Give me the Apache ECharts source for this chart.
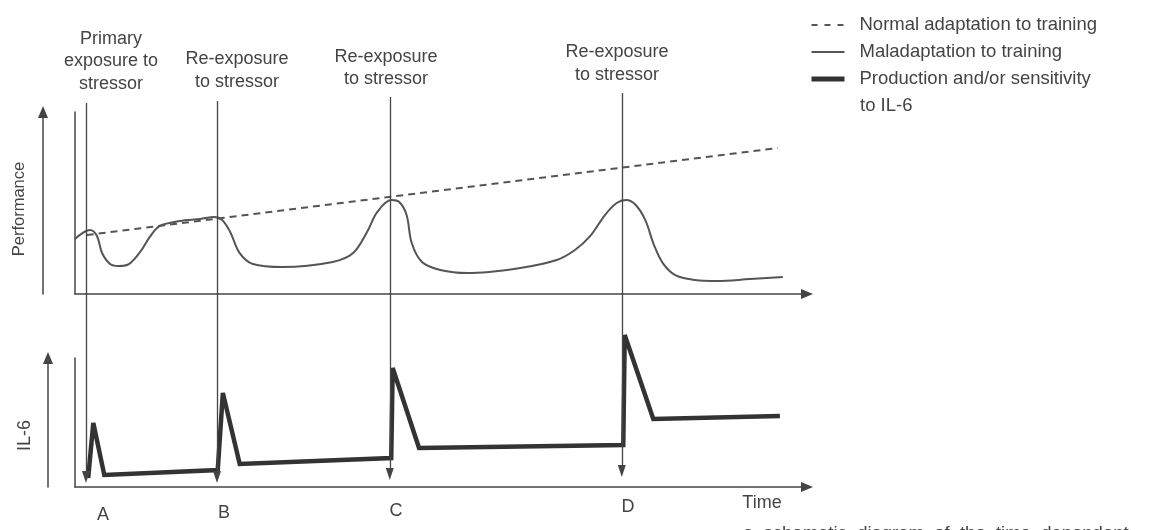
<!DOCTYPE html>
<html>
<head>
<meta charset="utf-8">
<script src="https://cdn.jsdelivr.net/npm/echarts@6/dist/echarts.min.js"></script>
<style>
html,body{margin:0;padding:0;background:#fff;}
#chart{width:1156px;height:530px;}
</style>
</head>
<body>
<div id="chart"></div>
<script>
// ---- data (arbitrary schematic units: time 0-100, response 0-100) ----
const seriesNames = ['Normal adaptation to training', 'Maladaptation to training', 'Production and/or sensitivity to IL-6'];
const legendLabels = ['Normal adaptation to training', 'Maladaptation to training', 'Production and/or sensitivity'];
const legendExtraLine = 'to IL-6';

const timeNormal = [1.6, 96.0];
const perfNormal = [32.4, 80.2];

const timeMal = [0, 1.0, 2.05, 3.0, 3.7, 4.8, 5.9, 7.1, 8.9, 10.2, 11.6, 14.3, 17.1, 19.0, 20.1, 21.2, 22.5, 24.3, 28.4, 35.2, 38.0, 39.9, 41.3, 43.2, 44.3, 45.3, 46.0, 47.4, 49.9, 53.6, 60.8, 65.8, 68.3, 70.4, 72.4, 74.0, 75.3, 76.6, 77.9, 79.1, 80.3, 82.0, 84.7, 87.7, 92.2, 96.7];
const perfMal = [30.2, 33.5, 35.2, 31.9, 22.5, 16.5, 15.4, 15.9, 23.1, 31.3, 37.4, 40.1, 41.2, 42.3, 40.7, 34.1, 22.5, 16.5, 14.8, 17.6, 22.5, 34.1, 45.1, 51.6, 50.5, 43.4, 28.0, 17.6, 13.2, 11.5, 14.3, 18.7, 24.2, 31.9, 43.4, 50.0, 51.6, 48.9, 40.7, 26.9, 17.0, 10.4, 7.7, 7.1, 8.2, 9.3];

const timeIL6 = [1.8, 2.5, 4.0, 19.5, 20.2, 22.5, 43.2, 43.4, 47.0, 74.9, 75.1, 79.0, 96.3];
const valueIL6 = [7.0, 49.6, 9.3, 13.2, 72.9, 17.8, 22.5, 92.2, 30.2, 32.6, 117.8, 52.7, 55.0];

const stressorTime = [1.5, 19.4, 43.0, 74.7];
const stressorTop = [96.75, 97.25, 98.25, 99.25];
const stressorBottom = [3.25, 3.25, 4.0, 4.75];
const stressorLabels = ['Primary\nexposure to\nstressor', 'Re-exposure\nto stressor', 'Re-exposure\nto stressor', 'Re-exposure\nto stressor'];
const eventLetters = ['A', 'B', 'C', 'D'];
const axisNames = ['Performance', 'IL-6', 'Time'];
const captionFragment = 'a  schematic  diagram  of  the  time  dependent';

// ---- build ----
const zip = (xs, ys) => xs.map((x, i) => [x, ys[i]]);
const FONT = '"Liberation Sans", Arial, Helvetica, sans-serif';
const INK = '#444';

const chart = echarts.init(document.getElementById('chart'), null, {renderer: 'canvas'});

const hiddenAxisBits = {
  axisTick: {show: false}, axisLabel: {show: false}, splitLine: {show: false}
};
const plainLine = {show: true, lineStyle: {color: INK, width: 1.5}};
const arrowLine = {show: true, symbol: ['none', 'triangle'], symbolSize: [10, 12], lineStyle: {color: INK, width: 1.5}};

const labelPos = [[111, 61.5], [237, 70.5], [386, 68], [617, 63.5]];
const letterPos = [[103, 515], [224, 513], [396, 511], [628, 507]];

const graphics = [];
stressorLabels.forEach((t, i) => {
  graphics.push({type: 'text', silent: true, style: {
    text: t, x: labelPos[i][0], y: labelPos[i][1], align: 'center', verticalAlign: 'middle',
    fontFamily: FONT, fontSize: 18, lineHeight: 22.5, fill: INK}});
});
eventLetters.forEach((t, i) => {
  graphics.push({type: 'text', silent: true, style: {
    text: t, x: letterPos[i][0], y: letterPos[i][1], align: 'center', verticalAlign: 'middle',
    fontFamily: FONT, fontSize: 18, fill: INK}});
});
graphics.push({type: 'text', silent: true, style: {text: axisNames[2], x: 762, y: 503, align: 'center', verticalAlign: 'middle', fontFamily: FONT, fontSize: 18, fill: INK}});
graphics.push({type: 'text', silent: true, style: {text: legendExtraLine, x: 860, y: 106, align: 'left', verticalAlign: 'middle', fontFamily: FONT, fontSize: 18.5, fill: INK}});
graphics.push({type: 'text', silent: true, style: {text: captionFragment, x: 743, y: 534, align: 'left', verticalAlign: 'middle', fontFamily: FONT, fontSize: 18.5, fill: INK}});

const option = {
  animation: false,
  backgroundColor: '#ffffff',
  grid: [
    {left: 75, top: 112, width: 732, height: 182, outerBoundsMode: 'none', containLabel: false},
    {left: 75, top: 358, width: 732, height: 129, outerBoundsMode: 'none', containLabel: false},
    {left: 75, top: 90, width: 732, height: 400, outerBoundsMode: 'none', containLabel: false}
  ],
  xAxis: [
    Object.assign({gridIndex: 0, type: 'value', min: 0, max: 100, axisLine: arrowLine}, hiddenAxisBits),
    Object.assign({gridIndex: 1, type: 'value', min: 0, max: 100, axisLine: arrowLine}, hiddenAxisBits),
    {gridIndex: 2, type: 'value', min: 0, max: 100, show: false}
  ],
  yAxis: [
    Object.assign({gridIndex: 0, type: 'value', min: 0, max: 100, position: 'left', axisLine: plainLine}, hiddenAxisBits),
    Object.assign({gridIndex: 0, type: 'value', min: 0, max: 100, position: 'left', offset: 32, axisLine: arrowLine,
      name: axisNames[0], nameLocation: 'middle', nameRotate: 90, nameGap: 15,
      nameTextStyle: {fontFamily: FONT, fontSize: 16.5, color: INK, padding: [0, 12, 0, 0]}}, hiddenAxisBits),
    Object.assign({gridIndex: 1, type: 'value', min: 0, max: 100, position: 'left', axisLine: plainLine}, hiddenAxisBits),
    Object.assign({gridIndex: 1, type: 'value', min: 0, max: 100, position: 'left', offset: 27, axisLine: arrowLine,
      name: axisNames[1], nameLocation: 'middle', nameRotate: 90, nameGap: 14,
      nameTextStyle: {fontFamily: FONT, fontSize: 18, color: INK, padding: [0, 26, 0, 0]}}, hiddenAxisBits),
    {gridIndex: 2, type: 'value', min: 0, max: 100, show: false}
  ],
  legend: {
    orient: 'vertical', left: 809, top: 14, padding: 0, itemWidth: 33, itemHeight: 14, itemGap: 5,
    selectedMode: false,
    itemStyle: {opacity: 0, borderWidth: 0},
    data: [
      {name: seriesNames[0], lineStyle: {width: 2, type: [6, 7]}},
      {name: seriesNames[1], lineStyle: {width: 2}},
      {name: seriesNames[2], lineStyle: {width: 5}}
    ],
    formatter: name => '{t|' + legendLabels[seriesNames.indexOf(name)] + '}',
    textStyle: {fontFamily: FONT, fontSize: 18.5, color: INK, lineHeight: 22,
      rich: {t: {fontFamily: FONT, fontSize: 18.5, color: INK, lineHeight: 22, padding: [0, 0, 0, 10]}}}
  },
  graphic: graphics,
  series: [
    {name: seriesNames[0], type: 'line', xAxisIndex: 0, yAxisIndex: 0, symbol: 'none', silent: true,
      data: zip(timeNormal, perfNormal), color: '#555',
      lineStyle: {type: [7, 5], width: 2, color: '#555'}},
    {name: seriesNames[1], type: 'line', xAxisIndex: 0, yAxisIndex: 0, symbol: 'none', silent: true, smooth: 0.35,
      data: zip(timeMal, perfMal), color: '#555',
      lineStyle: {width: 2, color: '#555'}},
    {name: seriesNames[2], type: 'line', xAxisIndex: 1, yAxisIndex: 2, symbol: 'none', silent: true, clip: false,
      data: zip(timeIL6, valueIL6), color: '#333',
      lineStyle: {width: 4.5, color: '#333', join: 'miter', miterLimit: 3}},
    {name: 'stressor', type: 'line', xAxisIndex: 2, yAxisIndex: 4, data: [], silent: true,
      markLine: {silent: true, symbol: ['none', 'triangle'], symbolSize: [8, 12], label: {show: false},
        lineStyle: {color: INK, width: 1.3, type: 'solid'},
        emphasis: {disabled: true},
        data: stressorTime.map((t, i) => [{coord: [t, stressorTop[i]]}, {coord: [t, stressorBottom[i]]}])}}
  ]
};
chart.setOption(option);
</script>
</body>
</html>
